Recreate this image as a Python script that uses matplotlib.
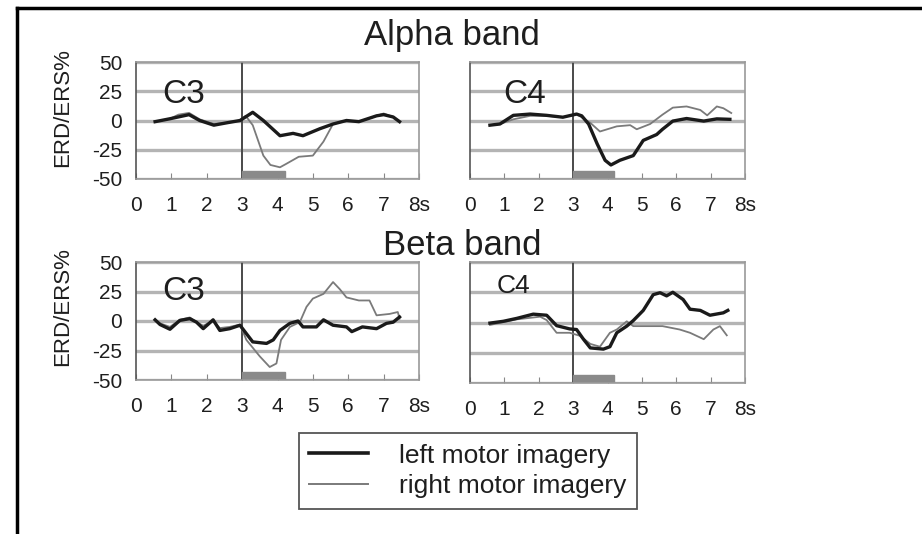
import numpy as np
import matplotlib
matplotlib.use("Agg")
import matplotlib.pyplot as plt
from matplotlib.patches import Rectangle
from matplotlib.lines import Line2D

plt.rcParams['font.family'] = ['Liberation Sans', 'DejaVu Sans']
plt.rcParams['axes.unicode_minus'] = False

# ERD/ERS time courses (seconds, percent)
alpha_c3_left_t = [0.54, 0.96, 1.5, 1.8, 2.2, 2.56, 2.94, 3.3, 3.6, 4.07, 4.44, 4.72, 5.2, 5.57, 5.95, 6.3, 6.8, 7.0, 7.27, 7.45]
alpha_c3_left_v = [-1, 1.5, 5, 0, -4, -2, 0, 7, 0, -13, -11, -13, -7, -3, 0, -1, 4, 5, 3, -1]
alpha_c3_right_t = [0.54, 0.96, 1.2, 1.5, 1.8, 2.2, 2.56, 2.94, 3.1, 3.3, 3.6, 3.8, 4.07, 4.25, 4.6, 5.0, 5.3, 5.57, 5.95, 6.3, 6.8, 7.0, 7.27, 7.45]
alpha_c3_right_v = [-1, 1.5, 5, 6.5, 1, -3, -2, 0, 4, -4, -30, -38, -40, -37, -31, -30, -18, -3, 0, -1, 4, 6, 3, -1]

alpha_c4_left_t = [0.58, 0.87, 1.26, 1.75, 2.23, 2.7, 3.1, 3.25, 3.45, 3.7, 3.93, 4.1, 4.36, 4.75, 5.04, 5.43, 5.6, 5.9, 6.3, 6.8, 7.18, 7.56]
alpha_c4_left_v = [-4, -3, 4.4, 5.5, 4.4, 2.8, 5.5, 4, -3, -20, -34, -38, -34, -30, -17, -12, -7.5, -0.5, 1.7, -0.5, 1.4, 1]
alpha_c4_right_t = [0.58, 0.87, 1.26, 1.75, 2.23, 2.7, 3.1, 3.5, 3.78, 4.27, 4.66, 4.85, 5.24, 5.6, 5.9, 6.3, 6.7, 6.9, 7.18, 7.37, 7.6]
alpha_c4_right_v = [-4, -3, 1, 4, 4, 2.8, 5.5, -2, -9.4, -5, -4, -7.5, -3, 5, 11, 12, 9, 4.4, 12, 10.5, 6.4]

beta_c3_left_t = [0.54, 0.68, 0.96, 1.24, 1.52, 1.71, 1.9, 2.18, 2.37, 2.65, 2.94, 3.12, 3.3, 3.69, 3.88, 4.07, 4.35, 4.58, 4.72, 5.1, 5.3, 5.57, 5.95, 6.1, 6.4, 6.8, 7.08, 7.27, 7.45]
beta_c3_left_v = [1, -3, -7, 0.5, 2, -1, -6.5, 1, -8, -6.5, -3.6, -10.7, -17.7, -19, -16, -8, -2, 0, -5, -5, 1, -3.6, -5, -9, -5, -6.5, -2, -1, 3.4]
beta_c3_right_t = [0.54, 0.68, 0.96, 1.24, 1.52, 1.71, 1.9, 2.18, 2.37, 2.65, 2.94, 3.12, 3.5, 3.78, 3.97, 4.1, 4.35, 4.63, 4.82, 5.0, 5.3, 5.57, 5.76, 5.95, 6.3, 6.6, 6.8, 7.17, 7.4, 7.45]
beta_c3_right_v = [1, -2, -5, 1, 3, -1, -4, 0, -6, -5, -3, -16, -30, -39, -36, -16, -5, -1, 12, 19, 23, 33, 27, 20, 17.4, 17.4, 4.8, 6, 7.6, 2]

beta_c4_left_t = [0.58, 0.97, 1.36, 1.84, 2.23, 2.52, 2.9, 3.1, 3.3, 3.5, 3.88, 4.07, 4.27, 4.56, 4.75, 5.04, 5.33, 5.53, 5.72, 5.9, 6.2, 6.4, 6.7, 6.98, 7.37, 7.5]
beta_c4_left_v = [-0.5, 1, 3.4, 6.9, 6, -2.6, -5.3, -5.8, -13.8, -21, -22, -20, -8.5, -3, 1.6, 10, 23, 24.6, 22, 25, 19, 11, 10, 6, 8, 10]
beta_c4_right_t = [0.58, 1.36, 2.04, 2.23, 2.52, 2.9, 3.2, 3.5, 3.78, 4.07, 4.27, 4.56, 4.75, 5.14, 5.6, 6.1, 6.4, 6.8, 7.08, 7.27, 7.47]
beta_c4_right_v = [-2, 2.6, 4.8, 2, -8.5, -8.5, -11, -17.7, -20, -8.5, -5.8, 1, -3, -3, -3, -5.8, -8.5, -13.8, -5.8, -3, -10.6]

x_ticks = [0, 1, 2, 3, 4, 5, 6, 7, 8]
x_tick_labels = ['0', '1', '2', '3', '4', '5', '6', '7', '8s']
y_ticks = [50, 25, 0, -25, -50]
cue_onset = 3.0
cue_len = 1.2

W, H = 922, 534
fig = plt.figure(figsize=(W / 100, H / 100), dpi=100)
ink = '#1e1e1e'

def px_axes(l, t, r, b):
    return fig.add_axes([l / W, 1 - b / H, (r - l) / W, (b - t) / H])

def panel(ax, left, right, name, name_pos, name_size, ylabel=None, ylab_y=0.6):
    ax.set_xlim(0, 8)
    ax.set_ylim(-50, 50)
    for g in y_ticks:
        ax.axhline(g, color='#b4b4b4', lw=2.4, zorder=1)
    ax.axvline(cue_onset, color='#4a4a4a', lw=1.4, zorder=2)
    ax.add_patch(Rectangle((cue_onset, -50), cue_len, 7, color='#8a8a8a', zorder=2))
    ax.plot(right[0], right[1], color='#7a7a7a', lw=1.3, zorder=3)
    ax.plot(left[0], left[1], color='#1a1a1a', lw=2.4, zorder=4)
    ax.text(name_pos[0], name_pos[1], name, fontsize=name_size, color=ink, va='baseline')
    for s in ax.spines.values():
        s.set_color('#9a9a9a')
        s.set_linewidth(1.2)
    ax.spines['left'].set_color('#555555')
    ax.set_xticks(x_ticks)
    ax.set_xticklabels(x_tick_labels)
    ax.tick_params(axis='x', direction='in', length=4, color='#888888', labelsize=15, pad=12, labelcolor=ink)
    if ylabel:
        ax.set_yticks(y_ticks)
        ax.tick_params(axis='y', length=0, labelsize=15, pad=10, labelcolor=ink)
        ax.set_ylabel(ylabel, fontsize=16, color=ink)
        ax.yaxis.set_label_coords(-0.223, ylab_y)
    else:
        ax.set_yticks([])

ax1 = px_axes(136, 62, 419, 179)
panel(ax1, (alpha_c3_left_t, alpha_c3_left_v), (alpha_c3_right_t, alpha_c3_right_v),
      'C3', (0.73, 15), 24, ylabel='ERD/ERS%', ylab_y=0.61)
ax2 = px_axes(470, 62, 745, 179)
panel(ax2, (alpha_c4_left_t, alpha_c4_left_v), (alpha_c4_right_t, alpha_c4_right_v),
      'C4', (0.96, 15), 24)
ax3 = px_axes(136, 262, 419, 380)
panel(ax3, (beta_c3_left_t, beta_c3_left_v), (beta_c3_right_t, beta_c3_right_v),
      'C3', (0.73, 17.5), 24, ylabel='ERD/ERS%', ylab_y=0.62)
ax4 = px_axes(470, 262, 745, 383)
panel(ax4, (beta_c4_left_t, beta_c4_left_v), (beta_c4_right_t, beta_c4_right_v),
      'C4', (0.78, 24), 19)

fig.text(452 / W, 1 - 45 / H, 'Alpha band', fontsize=25, ha='center', va='baseline', color=ink)
fig.text(462 / W, 1 - 255 / H, 'Beta band', fontsize=25, ha='center', va='baseline', color=ink)

handles = [Line2D([], [], color='#1a1a1a', lw=2.6), Line2D([], [], color='#7a7a7a', lw=1.4)]
leg = fig.legend(handles, ['left motor imagery', 'right motor imagery'],
                 loc='center', bbox_to_anchor=(468 / W, 1 - 471 / H), fontsize=19,
                 frameon=True, fancybox=False, edgecolor='#555555', framealpha=1,
                 handlelength=2.2, handletextpad=1.2, labelspacing=0.25, borderpad=0.4,
                 borderaxespad=0)
leg.get_frame().set_linewidth(1.3)
for t in leg.get_texts():
    t.set_color(ink)

# page border
fig.add_artist(Line2D([17 / W, 1], [1 - 8 / H, 1 - 8 / H], color='black', lw=2.5))
fig.add_artist(Line2D([17 / W, 17 / W], [0, 1 - 8 / H], color='black', lw=2.5))

fig.savefig('out.png', dpi=100)
